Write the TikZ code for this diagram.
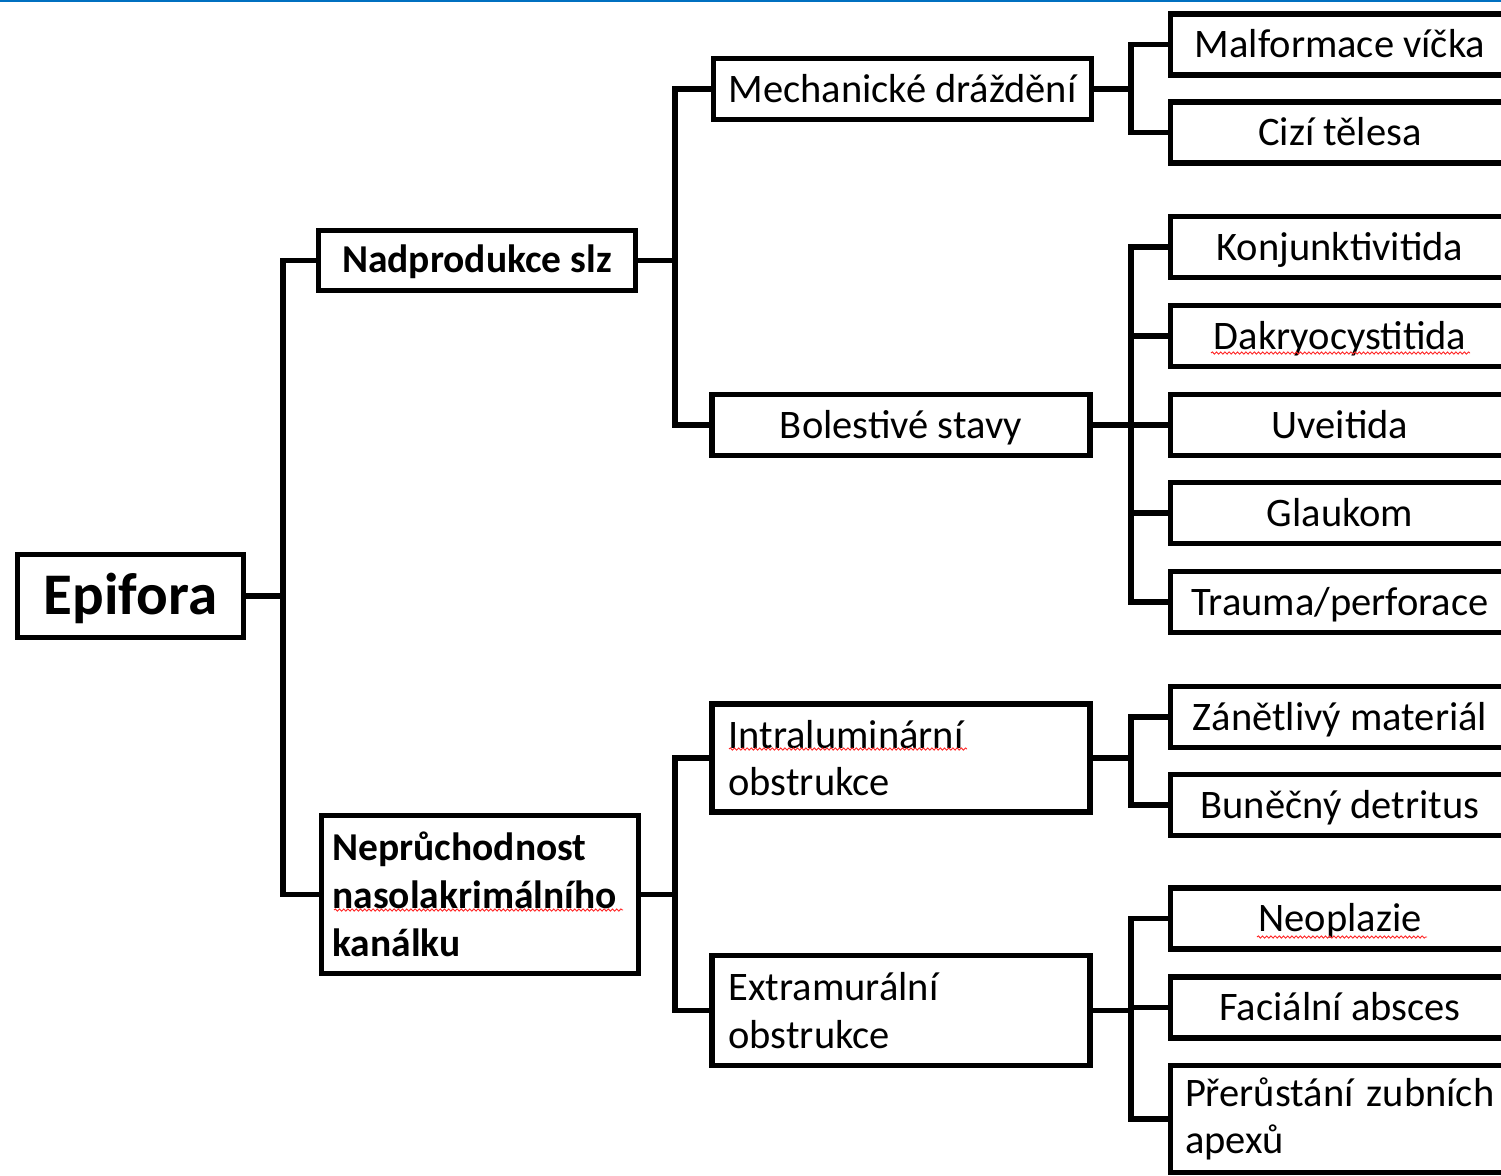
\documentclass[tikz,border=0pt]{standalone}
\usepackage{fontspec}
\setmainfont{Carlito}
\usepackage{xcolor}
\usetikzlibrary{positioning,calc,decorations.pathmorphing}
\definecolor{topblue}{HTML}{0070C0}

\begin{document}
\begin{tikzpicture}[x=1pt, y=-1pt, line width=5.5pt,
    root/.style={rectangle, draw, line width=5.5pt, inner sep=0pt, minimum width=226pt, minimum height=83pt, text height=36pt, text depth=0pt, font=\fontsize{59}{68}\selectfont\bfseries},
    group/.style={rectangle, draw, line width=5.5pt, inner sep=0pt, minimum width=317pt, align=left, font=\fontsize{39.5}{48}\selectfont\bfseries},
    cause/.style={rectangle, draw, line width=5.5pt, inner sep=0pt, minimum width=378pt, minimum height=61pt, align=left, font=\fontsize{40.5}{47.5}\selectfont},
    item/.style={rectangle, draw, line width=5.5pt, inner sep=0pt, minimum width=339pt, minimum height=61pt, align=center, font=\fontsize{40.5}{47.5}\selectfont},
    oneline/.style={text height=#1, text depth=0pt},
    oneline/.default=26pt,
    spell/.style={draw=red!85, line width=0.9pt, decorate, decoration={snake, amplitude=1.1pt, segment length=4.2pt}}]

    \useasboundingbox (0,0) rectangle (1501,1175);
    \clip (0,0) rectangle (1501,1175);
    \draw[topblue, line width=2.5pt] (0,1) -- (1501,1);

    % Root
    \node[root] (epifora) at (130.5,596) {Epifora};

    % Level 1
    \node[group, oneline=24pt, minimum height=60pt, align=center] (nadprod) at (477,260.5) {Nadprodukce slz};
    \node[group, minimum height=158pt, text width=295pt] (nepruch) at (480,894.5) {Neprůchodnost\\nasolakrimálního\\kanálku};

    % Level 2
    \node[cause, oneline, align=center] (mech) at (902.5,89) {Mechanické dráždění};
    \node[cause, oneline, align=center] (bolest) at (901,425) {Bolestivé stavy};
    \node[cause, minimum height=108pt, text width=345pt] (intra) at (901,758) {Intraluminární\\obstrukce};
    \node[cause, minimum height=110pt, text width=345pt] (extra) at (901,1010.5) {Extramurální\\obstrukce};

    % Level 3
    \node[item, oneline] (malf) at (1340,44.5) {Malformace víčka};
    \node[item, oneline] (cizi) at (1340,132.5) {Cizí tělesa};
    \node[item, oneline] (konj) at (1340,247) {Konjunktivitida};
    \node[item, oneline] (dakry) at (1340,336) {Dakryocystitida};
    \node[item, oneline] (uveit) at (1340,425) {Uveitida};
    \node[item, oneline] (glauk) at (1340,513) {Glaukom};
    \node[item, oneline] (trauma) at (1340,602) {Trauma/perforace};
    \node[item, oneline] (zanet) at (1340,717) {Zánětlivý materiál};
    \node[item, oneline] (bunec) at (1340,805) {Buněčný detritus};
    \node[item, oneline] (neopl) at (1340,918.5) {Neoplazie};
    \node[item, oneline] (facial) at (1340,1007.5) {Faciální absces};
    \node[item, minimum height=107pt, text width=310pt, align=left] (prerust) at (1340,1119) {Přerůstání zubních\\apexů};

    % Buses
    \coordinate (bus1) at (283,0);
    \coordinate (bus2) at (675,0);
    \coordinate (bus3) at (1131,0);

    % Connections
    \draw (epifora.east) -- (epifora.east -| bus1);
    \draw (nadprod.west) -| (bus1 |- nepruch.west) -- (nepruch.west);

    \draw (nadprod.east) -- (nadprod.east -| bus2);
    \draw (mech.west) -| (bus2 |- bolest.west) -- (bolest.west);
    \draw (nepruch.east) -- (nepruch.east -| bus2);
    \draw (intra.west) -| (bus2 |- extra.west) -- (extra.west);

    \draw (mech.east) -- (mech.east -| bus3);
    \draw (malf.west) -| (bus3 |- cizi.west) -- (cizi.west);
    \draw (bolest.east) -- (bolest.east -| bus3);
    \draw (konj.west) -| (bus3 |- trauma.west) -- (trauma.west);
    \foreach \n in {dakry,uveit,glauk}
        \draw (\n.west) -- (\n.west -| bus3);
    \draw (intra.east) -- (intra.east -| bus3);
    \draw (zanet.west) -| (bus3 |- bunec.west) -- (bunec.west);
    \draw (extra.east) -- (extra.east -| bus3);
    \draw (neopl.west) -| (bus3 |- prerust.west) -- (prerust.west);
    \draw (facial.west) -- (facial.west -| bus3);

    % Spelling marks
    \draw[spell] (1211,353) -- (1470,353);
    \draw[spell] (334,910) -- (623,910);
    \draw[spell] (729,749) -- (967,749);
    \draw[spell] (1257,937) -- (1427,937);

\end{tikzpicture}
\end{document}
